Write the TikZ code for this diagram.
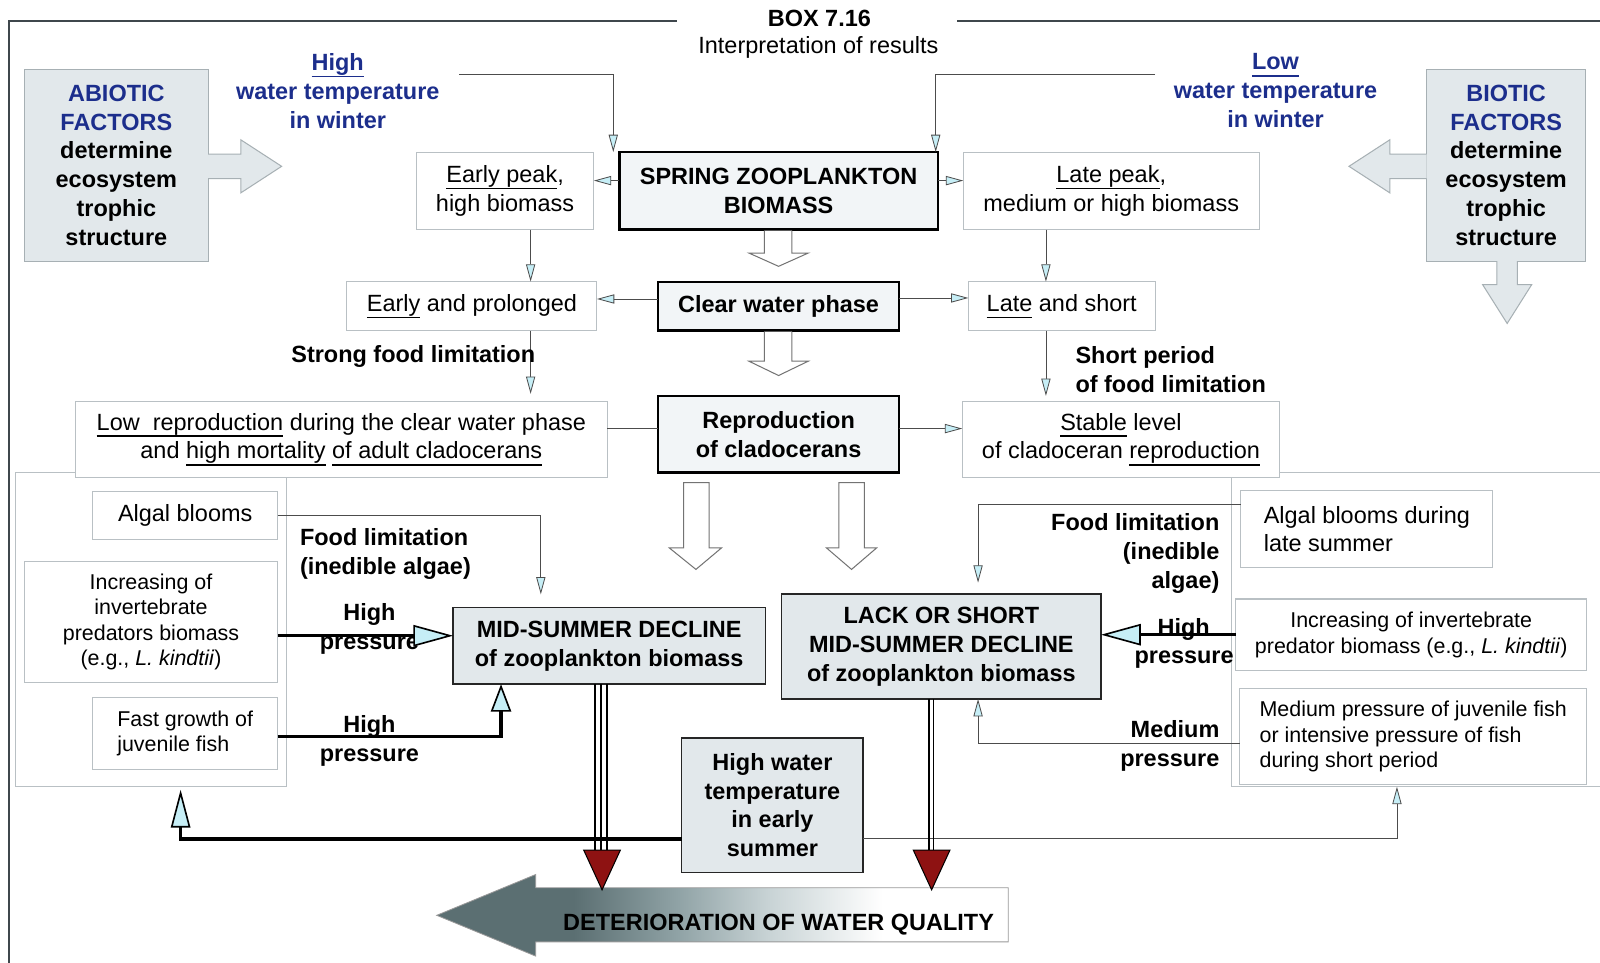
\documentclass[tikz,border=0pt]{standalone}
\usepackage{fontspec}
\setmainfont{Liberation Sans}
\usetikzlibrary{arrows.meta,calc}
\newsavebox\ulbox
\newcommand\uline[1]{\sbox\ulbox{#1}\leavevmode\rlap{\rule[-6.5pt]{\wd\ulbox}{1.3pt}}\usebox\ulbox}
\definecolor{navyt}{HTML}{1C2E8C}
\definecolor{cyanf}{HTML}{C6EEF6}
\definecolor{boxg}{HTML}{B9C0C4}
\definecolor{factf}{HTML}{E2E8EB}
\definecolor{factb}{HTML}{A7B0B4}
\definecolor{titlef}{HTML}{F2F5F7}
\definecolor{darkred}{HTML}{8E1212}
\definecolor{framec}{HTML}{3F474C}
\definecolor{detA}{HTML}{5B6F72}
\definecolor{detB}{HTML}{8FA2A5}
\definecolor{detC}{HTML}{C8D3D5}
\pgfdeclarehorizontalshading{detshade}{100bp}{color(0bp)=(detA); color(25bp)=(detA); color(37bp)=(detA); color(46bp)=(detB); color(54bp)=(detC); color(64bp)=(white); color(100bp)=(white)}
\newcommand\fs{\fontsize{23}{28.3}\selectfont}
\newcommand\fsa{\fontsize{23}{28}\selectfont}
\newcommand\fss{\fontsize{21}{25}\selectfont}
\begin{document}
\begin{tikzpicture}[x=1pt,y=-1pt,
  every node/.style={inner sep=0pt, outer sep=0pt, font=\fs},
  thinbox/.style={draw=boxg, line width=1pt, fill=white, align=center},
  titlebox/.style={draw=black, line width=2.2pt, fill=titlef, align=center, font=\fs\bfseries},
  darkbox/.style={draw=black!85, line width=1.6pt, fill=factf, align=center, font=\fs\bfseries},
  factbox/.style={draw=factb, line width=1pt, fill=factf, align=center, font=\fs\bfseries},
  lbl/.style={font=\fs\bfseries, align=center},
  thinline/.style={draw=black!70, line width=0.8pt},
  arr/.style={draw=black!70, line width=0.8pt, -{Triangle[length=17pt,width=9pt,fill=cyanf]}},
  bigarr/.style={draw=black, line width=3pt, -{Triangle[length=39pt,width=21pt,fill=cyanf,line width=1.6pt]}},
  bigarrb/.style={draw=black, line width=3pt, -{Triangle[length=27pt,width=20pt,fill=cyanf,line width=1.6pt]}},
  bigarrc/.style={draw=black, line width=3.5pt, -{Triangle[length=37pt,width=19pt,fill=cyanf,line width=1.6pt]}},
  hollow/.style={draw=black!55, line width=1pt, fill=white},
  factarrow/.style={fill=factf, draw=factb, line width=1pt}
]
\useasboundingbox (0,0) rectangle (1568,943);
\clip (0,0) rectangle (1568,943);
\fill[white] (0,0) rectangle (1568,943);

% frame
\draw[framec, line width=2pt] (663,20.3) -- (9,20.3) -- (9,960);
\draw[framec, line width=2pt] (938,20.3) -- (1600,20.3);
\node[font=\fs\bfseries] (boxno) at (803,18) {BOX 7.16};
\node (interp) at (802,46) {Interpretation of results};

% factor boxes and arrows
\node[factbox, minimum width=180, minimum height=188] (abiotic) at (114,162)
  {\textcolor{navyt}{ABIOTIC}\\\textcolor{navyt}{FACTORS}\\determine\\ecosystem\\trophic\\structure};
\node[factbox, minimum width=156, minimum height=188] (biotic) at (1476,162)
  {\textcolor{navyt}{BIOTIC}\\\textcolor{navyt}{FACTORS}\\determine\\ecosystem\\trophic\\structure};
\filldraw[factarrow] (204,151) -- (236,151) -- (236,137) -- (276,163) -- (236,189) -- (236,175) -- (204,175);
\filldraw[factarrow] (1398,151) -- (1362,151) -- (1362,137) -- (1322,163) -- (1362,189) -- (1362,175) -- (1398,175);
\filldraw[factarrow] (1467,256) -- (1467,279) -- (1453,279) -- (1477,317) -- (1501,279) -- (1487,279) -- (1487,256);

\node[lbl, text=navyt] (hightxt) at (331,89) {\uline{High}\\water temperature\\in winter};
\node[lbl, text=navyt] (lowtxt) at (1250,89) {\uline{Low}\\water temperature\\in winter};

% row 1
\node[thinbox, minimum width=174, minimum height=76] (early) at (495,187) {\uline{Early peak},\\high biomass};
\node[titlebox, minimum width=312, minimum height=76] (spring) at (763,187) {SPRING ZOOPLANKTON\\BIOMASS};
\node[thinbox, minimum width=290, minimum height=76] (late) at (1089,187) {\uline{Late peak},\\medium or high biomass};

% row 2
\node[thinbox, minimum width=245, minimum height=48] (eprol) at (462.5,300) {\uline{Early} and prolonged};
\node[titlebox, minimum width=236, minimum height=48] (clear) at (763,300) {Clear water phase};
\node[thinbox, minimum width=183, minimum height=48] (lshort) at (1040.5,300) {\uline{Late} and short};

% group boxes
\node[draw=boxg, line width=1pt, fill=white, minimum width=266, minimum height=308] (lgrp) at (148,617) {};
\node[draw=boxg, line width=1pt, fill=white, minimum width=400, minimum height=308] (rgrp) at (1407,617) {};

% row 3
\node[thinbox, minimum width=521, minimum height=75] (lowrep) at (334.5,430.5)
  {\uline{Low\ \ reproduction} during the clear water phase\\and \uline{high mortality} \uline{of adult cladocerans}};
\node[titlebox, minimum width=236, minimum height=75] (repro) at (763,425.5) {Reproduction\\of cladocerans};
\node[thinbox, minimum width=311, minimum height=75] (stable) at (1098.5,430.5) {\uline{Stable} level\\of cladoceran \uline{reproduction}};

% left inner boxes
\node[thinbox, font=\fsa, minimum width=181, minimum height=47] (algal) at (181.5,505.5) {Algal blooms};
\node[thinbox, font=\fss, minimum width=248, minimum height=119] (incl) at (148,609.5)
  {Increasing of\\invertebrate\\predators biomass\\(e.g., \textit{L. kindtii})};
\node[thinbox, font=\fss, align=left, minimum width=181, minimum height=70] (fast) at (181.5,719) {Fast growth of\\juvenile fish};

% right inner boxes
\node[thinbox, font=\fsa, align=left, minimum width=247, minimum height=75] (algr) at (1339.5,518.5) {Algal blooms during\\late summer};
\node[thinbox, font=\fss, minimum width=344, minimum height=70] (incr) at (1383,622)
  {Increasing of invertebrate\\predator biomass (e.g., \textit{L. kindtii})};
\node[thinbox, font=\fss, align=left, minimum width=340, minimum height=94] (medr) at (1385,722)
  {Medium pressure of juvenile fish\\or intensive pressure of fish\\during short period};

% dark boxes
\node[darkbox, minimum width=306, minimum height=75] (mid) at (597,633) {MID-SUMMER DECLINE\\of zooplankton biomass};
\node[darkbox, minimum width=313, minimum height=103] (lack) at (922.5,633.5) {LACK OR SHORT\\MID-SUMMER DECLINE\\of zooplankton biomass};
\node[darkbox, minimum width=178, minimum height=132] (hwt) at (757,789) {High water\\temperature\\in early\\summer};

% deterioration arrow
\shadedraw[shading=detshade, draw=black!40, line width=0.8pt] (988,870) -- (525,870) -- (525,857) -- (428,897) -- (525,937) -- (525,923) -- (988,923) -- cycle;
\node[font=\fs\bfseries] (detq) at (763,906) {DETERIORATION OF WATER QUALITY};

% connectors
\coordinate (hs) at (450,73);
\coordinate (ls) at (1132,73);
\draw[arr] (hs) -| ($(spring.north west)+(-6,0)$);
\draw[arr] (ls) -| ($(spring.north east)+(-2,0)$);
\draw[arr] ($(spring.north west)+(0,28)$) -- ($(early.north east)+(0,28)$);
\draw[arr] ($(spring.north east)+(0,28)$) -- ($(late.north west)+(0,28)$);
\draw[arr] (520,0 |- early.south) -- (520,0 |- eprol.north);
\draw[arr] (1025,0 |- late.south) -- (1025,0 |- lshort.north);
\draw[arr] (clear.west |- 0,293) -- (eprol.east |- 0,293);
\draw[arr] (clear.east |- 0,292) -- (lshort.west |- 0,292);
\draw[arr, shorten >=7pt] (520,0 |- eprol.south) -- (520,0 |- lowrep.north);
\draw[arr, shorten >=5pt] (1025,0 |- lshort.south) -- (1025,0 |- stable.north);
\draw[thinline] (repro.west |- 0,420) -- (lowrep.east |- 0,420);
\draw[arr] (repro.east |- 0,420) -- (stable.west |- 0,420);

\draw[arr, shorten >=13pt] (algal.east) -| (530,0 |- mid.north);
\draw[arr, shorten >=11pt] (algr.west |- 0,494) -| (958.5,0 |- lack.north);
\draw[arr] (medr.west |- 0,729) -| (958.5,0 |- lack.south);
\draw[arr] (hwt.east |- 0,822) -| (1369,0 |- rgrp.south);

% hollow block arrows
\filldraw[hollow] (749,226) -- (749,248) -- (734,248) -- (763,261) -- (792,248) -- (776,248) -- (776,226);
\filldraw[hollow] (749,325) -- (749,354) -- (734,354) -- (763,368) -- (792,354) -- (776,354) -- (776,325);
\filldraw[hollow] (670,473) -- (670,537) -- (656,537) -- (682,558) -- (707,537) -- (695,537) -- (695,473) -- cycle;
\filldraw[hollow] (822,473) -- (822,537) -- (810,537) -- (834.5,558) -- (859,537) -- (847,537) -- (847,473) -- cycle;

% labels
\node[lbl] (strong) at (405,349) {Strong food limitation};
\node[lbl, align=left, anchor=west] (shortp) at (1054,362.5) {Short period\\of food limitation};
\node[lbl, align=left, anchor=west] (foodl) at (294,543) {Food limitation\\(inedible algae)};
\node[lbl] (hp1) at (362,616) {High\\pressure};
\node[lbl] (hp2) at (362,726) {High\\pressure};
\node[lbl, align=right, anchor=east] (foodr) at (1195,542.5) {Food limitation\\(inedible\\algae)};
\node[lbl] (hprA) at (1160,617) {High};
\node[lbl, anchor=east] (hprB) at (1209,646) {pressure};
\node[lbl, align=right, anchor=east] (medl) at (1195,731) {Medium\\pressure};

% thick pressure arrows
\draw[bigarr] (incl.east |- 0,623) -- (mid.west |- 0,623);
\draw[bigarrb] (fast.east |- 0,722) -| (491,0 |- mid.south);
\draw[bigarr] (incr.west |- 0,622) -- (lack.east |- 0,622);
\draw[bigarrc, shorten >=3pt] (hwt.west |- 0,822) -| (177,0 |- lgrp.south);

% lines to deterioration
\foreach \xx in {583,589,595} \draw[line width=1.5pt] (\xx,0 |- mid.south) -- (\xx,835);
\foreach \xx in {910.5,915} \draw[line width=1.5pt] (\xx,0 |- lack.south) -- (\xx,835);
\filldraw[fill=darkred, draw=black, line width=1pt] (572,833) -- (608,833) -- (590,872) -- cycle;
\filldraw[fill=darkred, draw=black, line width=1pt] (895,833) -- (931,833) -- (913,872) -- cycle;
\end{tikzpicture}
\end{document}
